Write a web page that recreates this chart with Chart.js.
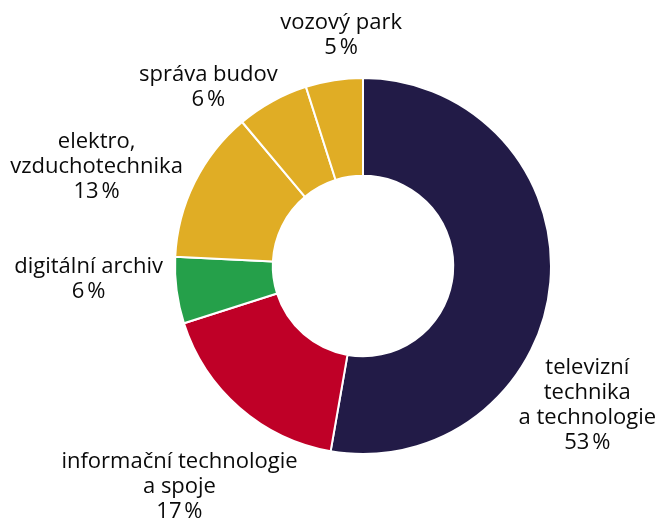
<!DOCTYPE html>
<html>
<head>
<meta charset="utf-8">
<script src="https://cdn.jsdelivr.net/npm/chart.js@4"></script>
<style>
  html, body { margin: 0; padding: 0; background: #fff; }
  .wrap { width: 658px; height: 522px; position: relative; }
</style>
</head>
<body>
<div class="wrap"><canvas id="costChart"></canvas></div>
<script>
// ===== Data =====
const categories = [
  ["televizní", "technika", "a technologie"],
  ["informační technologie", "a spoje"],
  ["digitální archiv"],
  ["elektro,", "vzduchotechnika"],
  ["správa budov"],
  ["vozový park"]
];
const shares = [52.7, 17.3, 5.7, 13.1, 6.2, 4.9];

// ===== Style =====
const sliceColors = ["#221b47", "#bf0027", "#25a04a", "#e0ad25", "#e0ad25", "#e0ad25"];
// label block centre relative to the slice's outer mid point
const labelOffsets = [[37, 123], [-60, 79], [-88, -11], [-98, -16], [-64, -14], [7, -45]];
const labelFont = "22px 'Open Sans'";
const lineHeight = 25;

const outsideLabels = {
  id: "outsideLabels",
  afterDatasetsDraw(chart) {
    const { ctx } = chart;
    const meta = chart.getDatasetMeta(0);
    ctx.save();
    ctx.font = labelFont;
    ctx.fillStyle = "#0a0a0a";
    ctx.textAlign = "center";
    ctx.textBaseline = "middle";
    meta.data.forEach((arc, i) => {
      const mid = (arc.startAngle + arc.endAngle) / 2;
      const ax = arc.x + Math.cos(mid) * arc.outerRadius;
      const ay = arc.y + Math.sin(mid) * arc.outerRadius;
      const lines = [...categories[i], Math.round(shares[i]) + "\u202F%"];
      const cx = ax + labelOffsets[i][0];
      const top = ay + labelOffsets[i][1] - (lines.length - 1) * lineHeight / 2;
      lines.forEach((t, j) => ctx.fillText(t, cx, top + j * lineHeight));
    });
    ctx.restore();
  }
};

document.addEventListener("DOMContentLoaded", () => {
  const ctx = document.getElementById("costChart").getContext("2d");
  new Chart(ctx, {
    type: "doughnut",
    data: {
      labels: categories.map(c => c.join(" ")),
      datasets: [{
        data: shares,
        backgroundColor: sliceColors,
        borderColor: "#fff",
        borderWidth: 2
      }]
    },
    options: {
      responsive: true,
      maintainAspectRatio: false,
      animation: false,
      cutout: "48%",
      layout: { padding: { left: 174, right: 106, top: 77, bottom: 67 } },
      plugins: { legend: { display: false }, tooltip: { enabled: false } }
    },
    plugins: [outsideLabels]
  });
});
</script>
</body>
</html>
